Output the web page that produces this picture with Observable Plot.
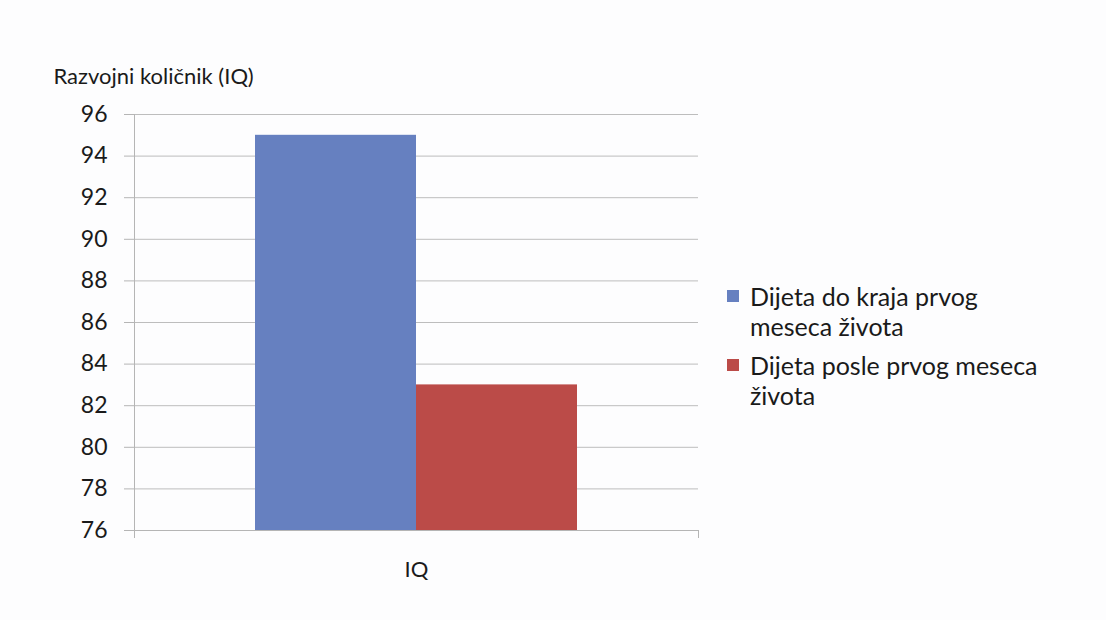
<!DOCTYPE html>
<html>
<head>
<meta charset="utf-8">
<script src="https://cdn.jsdelivr.net/npm/d3@7"></script>
<script src="https://cdn.jsdelivr.net/npm/@observablehq/plot@0.6"></script>
<style>
  html, body { margin: 0; padding: 0; background: #fdfdfe; }
  #wrap { position: relative; width: 1106px; height: 620px; font-family: Lato, "Open Sans", sans-serif; }
  #legend { position: absolute; left: 727px; top: 281px; width: 370px; color: #1a1a1a; font-size: 25px; line-height: 30px; }
  .item { position: relative; padding-left: 23px; margin-bottom: 9px; }
  .swatch { position: absolute; left: 0; top: 9px; width: 12px; height: 12px; }
</style>
</head>
<body>
<div id="wrap"></div>
<script>
// Developmental quotient by feeding group
const categories = ["IQ"];
const series = ["Dijeta do kraja prvog meseca života", "Dijeta posle prvog meseca života"];
const values = [95, 83];
const colors = ["#6680c0", "#bb4b48"];
const yTicks = [76, 78, 80, 82, 84, 86, 88, 90, 92, 94, 96];
const yTitle = "Razvojni količnik (IQ)";

const rows = series.map((s, i) => ({category: categories[0], series: s, value: values[i]}));

const axisColor = "#b5b5b5";

const chart = Plot.plot({
  width: 1106,
  height: 620,
  marginLeft: 134,
  marginRight: 408,
  marginTop: 114,
  marginBottom: 90,
  style: {background: "#fdfdfe", fontFamily: "Lato, 'Open Sans', sans-serif", color: "#1a1a1a"},
  fx: {domain: categories, padding: 0, label: null, axis: null},
  x: {domain: series, paddingInner: 0, paddingOuter: 0.75, axis: null},
  y: {domain: [76, 96], ticks: yTicks, label: null},
  color: {domain: series, range: colors},
  marks: [
    Plot.gridY(yTicks, {stroke: "#bdbdbd", strokeOpacity: 1, strokeWidth: 1}),
    Plot.barY(rows, {fx: "category", x: "series", y1: 76, y2: "value", fill: "series", inset: 0}),
    Plot.ruleY([76], {stroke: axisColor}),
    Plot.frame({anchor: "left", stroke: axisColor, insetBottom: -7}),
    Plot.frame({anchor: "right", stroke: axisColor, insetTop: 416, insetBottom: -7}),
    Plot.axisY(yTicks, {
      tickSize: 10, tickPadding: 17, stroke: axisColor, fontSize: 23, label: null, tickFormat: d => String(d)
    }),
    Plot.axisFx({anchor: "bottom", tickSize: 0, tickPadding: 31, fontSize: 22, label: null}),
    Plot.text([yTitle], {frameAnchor: "top-left", dx: -81, dy: -46, textAnchor: "start", fontSize: 22, fill: "#1a1a1a"})
  ]
});

const wrap = document.getElementById("wrap");
wrap.appendChild(chart);

// Legend beside the plot
const legend = document.createElement("div");
legend.id = "legend";
const legendLines = [["Dijeta do kraja prvog", "meseca života"], ["Dijeta posle prvog meseca", "života"]];
series.forEach((s, i) => {
  const item = document.createElement("div");
  item.className = "item";
  const sw = document.createElement("span");
  sw.className = "swatch";
  sw.style.background = colors[i];
  item.appendChild(sw);
  legendLines[i].forEach((t, j) => {
    if (j) item.appendChild(document.createElement("br"));
    item.appendChild(document.createTextNode(t));
  });
  legend.appendChild(item);
});
wrap.appendChild(legend);
</script>
</body>
</html>
